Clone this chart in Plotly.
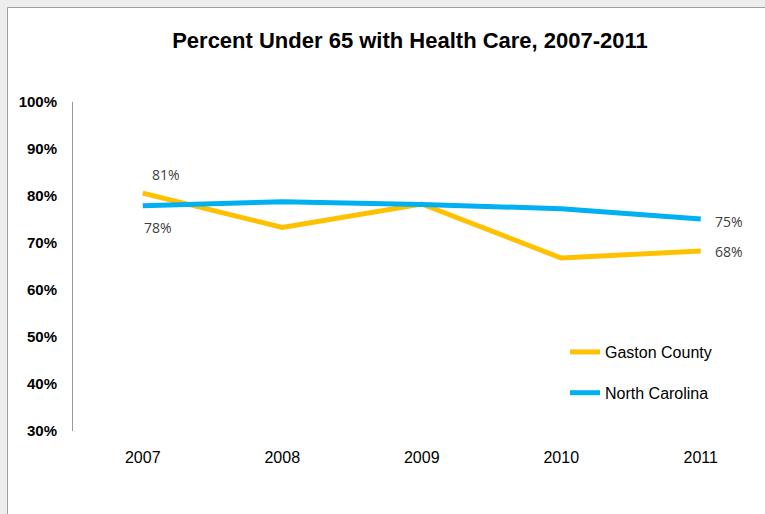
import plotly.graph_objects as go

years = ["2007", "2008", "2009", "2010", "2011"]
gaston = [80.6, 73.3, 78.3, 66.8, 68.3]
north_carolina = [77.9, 78.8, 78.2, 77.3, 75.1]
series_names = ["Gaston County", "North Carolina"]
y_ticks = [30, 40, 50, 60, 70, 80, 90, 100]
y_tick_text = ["30%", "40%", "50%", "60%", "70%", "80%", "90%", "100%"]

W, H = 765, 514
ML, MR, MT, MB = 73, 0, 102, 83
PW, PH = W - ML - MR, H - MT - MB

def px_x(p):
    return (p - ML) / PW

def px_y(p):
    return (H - MB - p) / PH

fig = go.Figure()
fig.add_trace(go.Scatter(x=years, y=gaston, mode="lines", name=series_names[0],
                         line=dict(color="#FFC000", width=5), legendgroup="g"))
fig.add_trace(go.Scatter(x=years, y=north_carolina, mode="lines", name=series_names[1],
                         line=dict(color="#00B0F0", width=5), legendgroup="n"))

lab_font = dict(family="Open Sans", size=14, color="#404040")
last = len(years) - 1
ann = [
    (0, gaston[0], 23, 19),
    (0, north_carolina[0], 15, -22),
    (last, north_carolina[last], 28, -2),
    (last, gaston[last], 28, -1),
]
for xi, y, dx, dy in ann:
    fig.add_annotation(x=xi, y=y, xref="x", yref="y", text=str(round(y)) + "%",
                       showarrow=False, xshift=dx, yshift=dy, font=lab_font)

fig.add_shape(type="rect", xref="paper", yref="paper",
              x0=px_x(7.5), x1=px_x(W + 20), y0=px_y(H + 20), y1=px_y(7.5),
              fillcolor="white", line=dict(color="#a0a0a0", width=1), layer="below")

AR = "Arial, Liberation Sans, sans-serif"
fig.update_layout(
    width=W, height=H,
    margin=dict(l=ML, r=MR, t=MT, b=MB),
    paper_bgcolor="#eeeeee",
    plot_bgcolor="white",
    title=dict(text="<b>Percent Under 65 with Health Care, 2007-2011</b>",
               x=410 / W, xanchor="center", xref="container",
               y=1 - 40 / H, yanchor="middle",
               font=dict(family=AR, size=22, color="black")),
    showlegend=True,
    legend=dict(x=px_x(565), y=px_y(335), xanchor="left", yanchor="top",
                bgcolor="rgba(0,0,0,0)", tracegroupgap=17,
                font=dict(family=AR, size=16, color="black")),
    xaxis=dict(type="category", range=[-0.5, -0.5 + PW / 139.5], showline=False,
               showgrid=False, zeroline=False, ticks="", ticklabelstandoff=15,
               tickfont=dict(family=AR, size=16, color="black")),
    yaxis=dict(range=[30, 100], tickvals=y_ticks, ticktext=y_tick_text, showgrid=False,
               zeroline=False, showline=True, linecolor="#999999", linewidth=1,
               ticks="", ticklabelstandoff=12,
               tickfont=dict(family=AR, size=15, color="black", weight="bold")),
)

fig.write_html("out.html")
